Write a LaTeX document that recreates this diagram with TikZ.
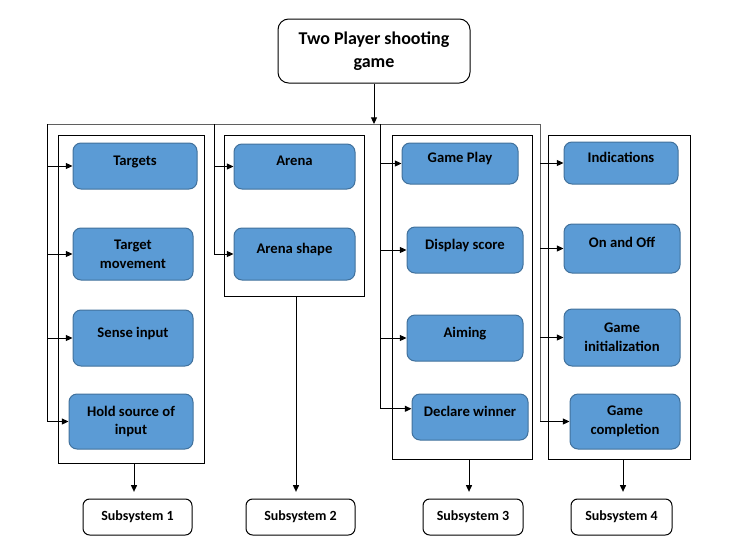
\documentclass[tikz,border=0pt]{standalone}
\usepackage{fontspec}
\setmainfont{Carlito}
\usetikzlibrary{arrows.meta}

\begin{document}
\begin{tikzpicture}[x=0.75pt, y=-0.75pt, line width=0.75pt,
		>={Triangle[length=5pt,width=4.5pt]},
		font=\bfseries\fontsize{11}{14}\selectfont]
	\definecolor{boxFillColour}{RGB}{91, 155, 213}
	\definecolor{boxLineColour}{RGB}{65, 113, 156}
	\definecolor{busColour}{RGB}{95, 95, 95}

	\tikzset{
		blueBox/.style 2 args={draw=boxLineColour, fill=boxFillColour, rounded corners=6pt, align=center,
			minimum width=#1*0.75pt, minimum height=#2*0.75pt, inner sep=1pt},
		upLine/.style={text height=8pt, text depth=9.5pt},
		frameBox/.style 2 args={draw=black, minimum width=#1*0.75pt, minimum height=#2*0.75pt, inner sep=0pt},
		subBox/.style={draw=black, rounded corners=5pt, minimum width=#1*0.75pt, minimum height=36*0.75pt,
			font=\bfseries\fontsize{10.5}{13}\selectfont},
		busLine/.style={draw=busColour}
	}

	\useasboundingbox (0,0) rectangle (742,550);

	% top of the tree
	\node[draw=black, rounded corners=8pt, align=center, minimum width=192*0.75pt, minimum height=64*0.75pt,
		font=\bfseries\fontsize{13.5}{17.5}\selectfont] (title) at (374,51) {Two Player shooting\\game};

	% the four groups
	\node[frameBox={146}{328}] (frameA) at (131,299) {};
	\node[frameBox={140}{161}] (frameB) at (294,215.5) {};
	\node[frameBox={140}{324}] (frameC) at (462,297) {};
	\node[frameBox={142}{324}] (frameD) at (619,297) {};

	\node[blueBox={124}{46}, upLine] (targets) at (135,166) {Targets};
	\node[blueBox={120}{52}] (tmove) at (133,254) {Target\\movement};
	\node[blueBox={120}{56}, upLine] (sense) at (133,338) {Sense input};
	\node[blueBox={124}{55}] (hold) at (131,421.5) {Hold source of\\input};

	\node[blueBox={121}{45}, upLine] (arena) at (294.5,166.5) {Arena};
	\node[blueBox={121}{52}, upLine] (ashape) at (294.5,254) {Arena shape};

	\node[blueBox={116}{41}, upLine] (gplay) at (460,163.5) {Game Play};
	\node[blueBox={116}{46}, upLine] (dscore) at (465,250) {Display score};
	\node[blueBox={116}{46}, upLine] (aiming) at (465,338) {Aiming};
	\node[blueBox={116}{46}, upLine] (declare) at (470,417) {Declare winner};

	\node[blueBox={114}{42}, upLine] (indic) at (621,163) {Indications};
	\node[blueBox={116}{49}, upLine] (onoff) at (622,248.5) {On and Off};
	\node[blueBox={116}{57}] (ginit) at (622,337.5) {Game\\initialization};
	\node[blueBox={110}{55}] (gcomp) at (625,421.5) {Game\\completion};

	\node[subBox=109] (subA) at (137.5,517) {Subsystem 1};
	\node[subBox=109] (subB) at (300.5,517) {Subsystem 2};
	\node[subBox=100] (subC) at (473,517) {Subsystem 3};
	\node[subBox=101] (subD) at (621.5,517) {Subsystem 4};

	% bus
	\coordinate (busA) at (47,124);
	\coordinate (busB) at (214,124);
	\coordinate (busC) at (380,124);
	\coordinate (busD) at (540,124);

	\draw[->] (title.south) -- (title.south |- busA);
	\draw[busLine] (busA) -- (busD) -- (busD |- gcomp.west);
	\draw (busA) -- (busA |- hold.west);
	\draw (busB) -- (busB |- ashape.west);
	\draw (busC) -- (busC |- declare.172);

	\foreach \b in {targets,tmove,sense,hold}
		\draw[->] (busA |- \b.west) -- (\b.west);
	\foreach \b in {arena,ashape}
		\draw[->] (busB |- \b.west) -- (\b.west);
	\foreach \b in {gplay,dscore,aiming}
		\draw[->] (busC |- \b.west) -- (\b.west);
	\draw[->] (busC |- declare.172) -- (declare.172);
	\foreach \b in {indic,onoff,ginit,gcomp}
		\draw[->] (busD |- \b.west) -- (\b.west);

	\foreach \f/\s/\dx in {frameA/subA/3,frameB/subB/2,frameC/subC/7,frameD/subD/4}
		\draw[->, shorten >=5pt] ([xshift=\dx*0.75pt]\f.south) -- ([xshift=\dx*0.75pt]\f.south |- \s.north);
\end{tikzpicture}
\end{document}
